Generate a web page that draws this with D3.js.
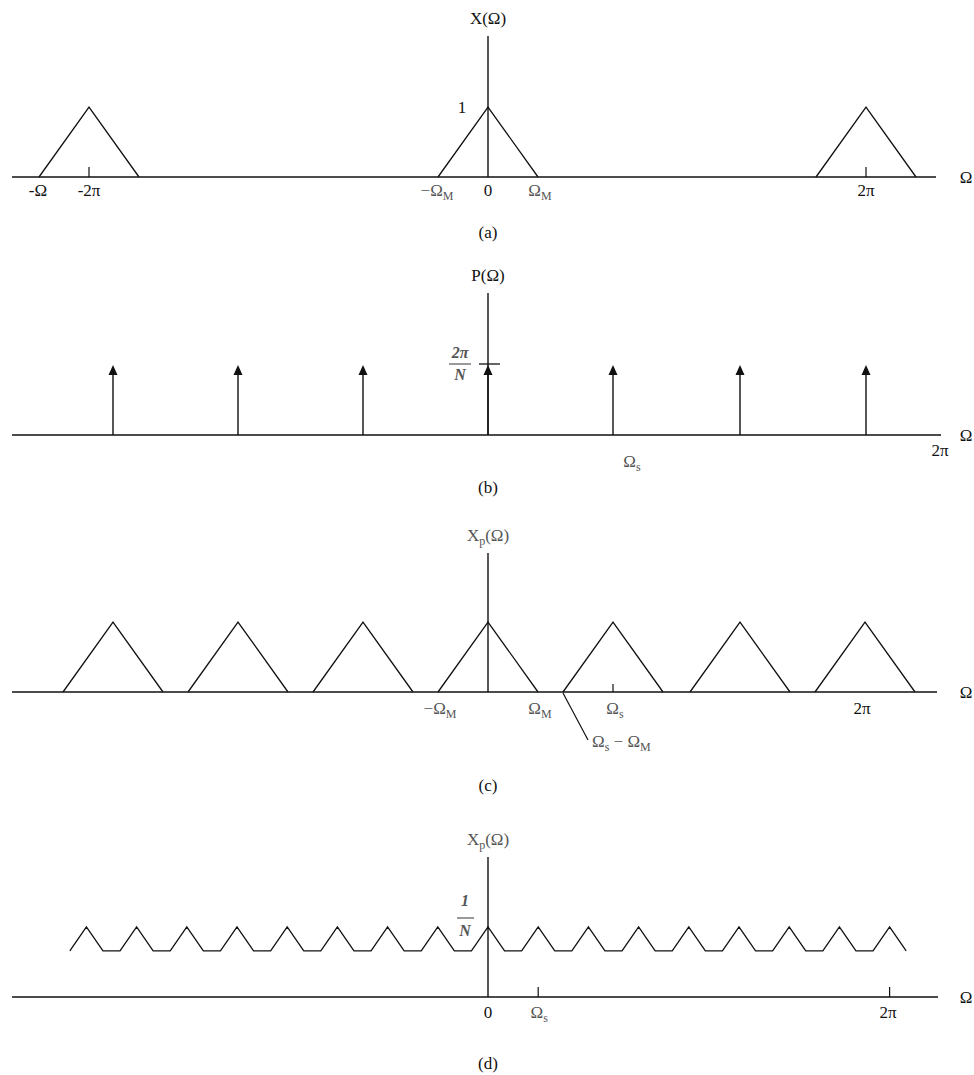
<!DOCTYPE html>
<html>
<head>
<meta charset="utf-8">
<script src="https://cdn.jsdelivr.net/npm/d3@7"></script>
<style>
  html, body { margin: 0; padding: 0; background: #fff; }
  svg { display: block; }
  .plain { font-family: "Liberation Serif", "DejaVu Serif", serif; font-size: 17px; fill: #111; }
  .math { font-family: "Liberation Serif", "DejaVu Serif", serif; font-size: 17px; fill: #555; }
  .frac { font-family: "Liberation Serif", "DejaVu Serif", serif; font-size: 16px; font-style: italic; font-weight: bold; fill: #555; }
</style>
</head>
<body>
<svg id="chart" width="974" height="1075"></svg>
<script>
// Frequency positions are in units of Ω_M (panels a–c) and Ω_s (panel d).

// (a) spectrum of the continuous signal: triangle centres and ticks
const specCentersA = [-7.98, 0, 7.56];
const ticksA = [-7.98, 7.56];
const labelsA = [
  { x: -9.0, t: "-Ω", kind: "plain" },
  { x: -7.98, t: "-2π", kind: "plain" },
  { x: -1.02, t: "−Ω", sub: "M", kind: "math" },
  { x: 0, t: "0", kind: "plain" },
  { x: 1.04, t: "Ω", sub: "M", kind: "math" },
  { x: 7.56, t: "2π", kind: "plain" }
];

// (b) impulse train P(Ω)
const impulsePos = [-7.5, -5, -2.5, 0, 2.5, 5.04, 7.56];
const impulseHeight = 1;

// (c) replicated spectrum X_p(Ω)
const specCentersC = [-7.5, -5, -2.5, 0, 2.5, 5.04, 7.54];
const ticksC = [2.5];
const labelsC = [
  { x: -0.96, t: "−Ω", sub: "M", kind: "math" },
  { x: 1.04, t: "Ω", sub: "M", kind: "math" },
  { x: 2.54, t: "Ω", sub: "s", kind: "math" },
  { x: 7.48, t: "2π", kind: "plain" }
];
const triHalfWidth = 1;   // Ω_M
const triPeak = 1;

// (d) overlapping (aliased) spectrum, positions in units of Ω_s
const peaksD = d3.range(-8, 9);
const peakD = 1;        // 1/N
const floorD = 0.66;
const halfWidthD = 0.33;
const ticksD = [1, 8];
const labelsD = [
  { x: 0, t: "0", kind: "plain" },
  { x: 1.02, t: "Ω", sub: "s", kind: "math" },
  { x: 7.97, t: "2π", kind: "plain" }
];

const svg = d3.select("#chart");
const ink = "#111";

// shared horizontal scale for panels a–c (Ω_M = 1)
const x = d3.scaleLinear().domain([-9.52, 8.96]).range([12, 936]);
// horizontal scale for panel d (Ω_s = 1)
const xd = d3.scaleLinear().domain([0, 1]).range([488, 538.2]);

function yScale(base) {
  return d3.scaleLinear().domain([0, 1]).range([base, base - 70]);
}

function label(g, px, py, item, anchor) {
  const t = g.append("text")
    .attr("class", item.kind)
    .attr("x", px).attr("y", py)
    .attr("text-anchor", anchor || "middle");
  t.append("tspan").text(item.t);
  if (item.sub) {
    t.append("tspan").attr("dy", 4).attr("font-size", 12).text(item.sub);
  }
  return t;
}

function frame(base, axisEndPx, vTop, title, caption, captionY) {
  const g = svg.append("g");
  g.append("line").attr("x1", 12).attr("x2", axisEndPx)
    .attr("y1", base).attr("y2", base)
    .attr("stroke", ink).attr("stroke-width", 1.6);
  g.append("line").attr("x1", 488).attr("x2", 488)
    .attr("y1", vTop).attr("y2", base)
    .attr("stroke", ink).attr("stroke-width", 1.4);
  g.append("text").attr("class", "plain").attr("x", 966).attr("y", base + 6)
    .attr("text-anchor", "middle").text("Ω");
  const tt = g.append("text").attr("class", title.kind)
    .attr("x", 488).attr("y", vTop - 12).attr("text-anchor", "middle");
  tt.append("tspan").text(title.t);
  if (title.sub) tt.append("tspan").attr("dy", 4).attr("font-size", 12).text(title.sub);
  if (title.rest) tt.append("tspan").attr("dy", title.sub ? -4 : 0).text(title.rest);
  g.append("text").attr("class", "plain").attr("x", 488).attr("y", captionY)
    .attr("text-anchor", "middle").text(caption);
  return g;
}

const triLine = d3.line();

function triangles(g, centers, xs, ys) {
  g.selectAll("path.tri").data(centers).join("path")
    .attr("class", "tri")
    .attr("fill", "none").attr("stroke", ink).attr("stroke-width", 1.3)
    .attr("d", c => triLine([
      [xs(c - triHalfWidth), ys(0)],
      [xs(c), ys(triPeak)],
      [xs(c + triHalfWidth), ys(0)]
    ]));
}

function ticks(g, vals, xs, base, len) {
  g.selectAll("line.tick").data(vals).join("line")
    .attr("class", "tick")
    .attr("x1", d => xs(d)).attr("x2", d => xs(d))
    .attr("y1", base - len).attr("y2", base)
    .attr("stroke", ink).attr("stroke-width", 1.2);
}

// ---------- (a) ----------
{
  const base = 177, ys = yScale(base);
  const g = frame(base, 936, 36, { t: "X(Ω)", kind: "plain" }, "(a)", 238);
  triangles(g, specCentersA, x, ys);
  ticks(g, ticksA, x, base, 10);
  labelsA.forEach(d => label(g, x(d.x), base + 19, d));
  g.append("text").attr("class", "plain").attr("x", 462).attr("y", ys(1) + 6)
    .attr("text-anchor", "middle").text("1");
}

// ---------- (b) ----------
{
  const base = 435, ys = yScale(base);
  const g = frame(base, 941, 293, { t: "P(Ω)", kind: "plain" }, "(b)", 493);
  g.selectAll("line.imp").data(impulsePos).join("line")
    .attr("class", "imp")
    .attr("x1", d => x(d)).attr("x2", d => x(d))
    .attr("y1", ys(impulseHeight) + 8).attr("y2", base)
    .attr("stroke", ink).attr("stroke-width", 1.4);
  g.selectAll("path.head").data(impulsePos).join("path")
    .attr("class", "head").attr("fill", ink)
    .attr("d", d => triLine([
      [x(d), ys(impulseHeight)],
      [x(d) - 4.5, ys(impulseHeight) + 10],
      [x(d) + 4.5, ys(impulseHeight) + 10]
    ]) + "Z");
  // level marker for 2π/N
  g.append("line").attr("x1", 479).attr("x2", 500)
    .attr("y1", ys(impulseHeight) - 1).attr("y2", ys(impulseHeight) - 1)
    .attr("stroke", ink).attr("stroke-width", 1.3);
  g.append("text").attr("class", "frac").attr("x", 460).attr("y", ys(impulseHeight) - 7)
    .attr("text-anchor", "middle").text("2π");
  g.append("line").attr("x1", 449).attr("x2", 471)
    .attr("y1", ys(impulseHeight) - 1).attr("y2", ys(impulseHeight) - 1)
    .attr("stroke", "#555").attr("stroke-width", 1.2);
  g.append("text").attr("class", "frac").attr("x", 460).attr("y", ys(impulseHeight) + 15)
    .attr("text-anchor", "middle").text("N");
  label(g, x(2.88), base + 32, { t: "Ω", sub: "s", kind: "math" });
  g.append("text").attr("class", "plain").attr("x", 940).attr("y", base + 21)
    .attr("text-anchor", "middle").text("2π");
}

// ---------- (c) ----------
{
  const base = 692, ys = yScale(base);
  const g = frame(base, 937, 553, { t: "X", sub: "p", rest: "(Ω)", kind: "math" }, "(c)", 791);
  triangles(g, specCentersC, x, ys);
  ticks(g, ticksC, x, base, 8);
  labelsC.forEach(d => label(g, x(d.x), base + 22, d));
  // pointer to the edge Ω_s − Ω_M
  const edge = specCentersC[4] - triHalfWidth;
  g.append("line").attr("x1", x(edge)).attr("y1", base + 1)
    .attr("x2", x(edge) + 25).attr("y2", base + 48)
    .attr("stroke", ink).attr("stroke-width", 1.2);
  const t = g.append("text").attr("class", "math").attr("x", x(edge) + 29).attr("y", base + 55)
    .attr("text-anchor", "start");
  t.append("tspan").text("Ω");
  t.append("tspan").attr("dy", 4).attr("font-size", 12).text("s");
  t.append("tspan").attr("dy", -4).text(" − Ω");
  t.append("tspan").attr("dy", 4).attr("font-size", 12).text("M");
}

// ---------- (d) ----------
{
  const base = 997, ys = yScale(base);
  const g = frame(base, 938, 857, { t: "X", sub: "p", rest: "(Ω)", kind: "math" }, "(d)", 1069);
  const pts = [];
  peaksD.forEach(p => {
    pts.push([xd(p - halfWidthD), ys(floorD)]);
    pts.push([xd(p), ys(peakD)]);
    pts.push([xd(p + halfWidthD), ys(floorD)]);
  });
  g.append("path").attr("fill", "none").attr("stroke", ink).attr("stroke-width", 1.3)
    .attr("d", triLine(pts));
  ticks(g, ticksD, xd, base, 10);
  labelsD.forEach(d => label(g, xd(d.x), base + 21, d));
  g.append("text").attr("class", "frac").attr("x", 465).attr("y", ys(peakD) - 21)
    .attr("text-anchor", "middle").text("1");
  g.append("line").attr("x1", 457).attr("x2", 474)
    .attr("y1", ys(peakD) - 9).attr("y2", ys(peakD) - 9)
    .attr("stroke", "#555").attr("stroke-width", 1.2);
  g.append("text").attr("class", "frac").attr("x", 465).attr("y", ys(peakD) + 9)
    .attr("text-anchor", "middle").text("N");
}
</script>
</body>
</html>
